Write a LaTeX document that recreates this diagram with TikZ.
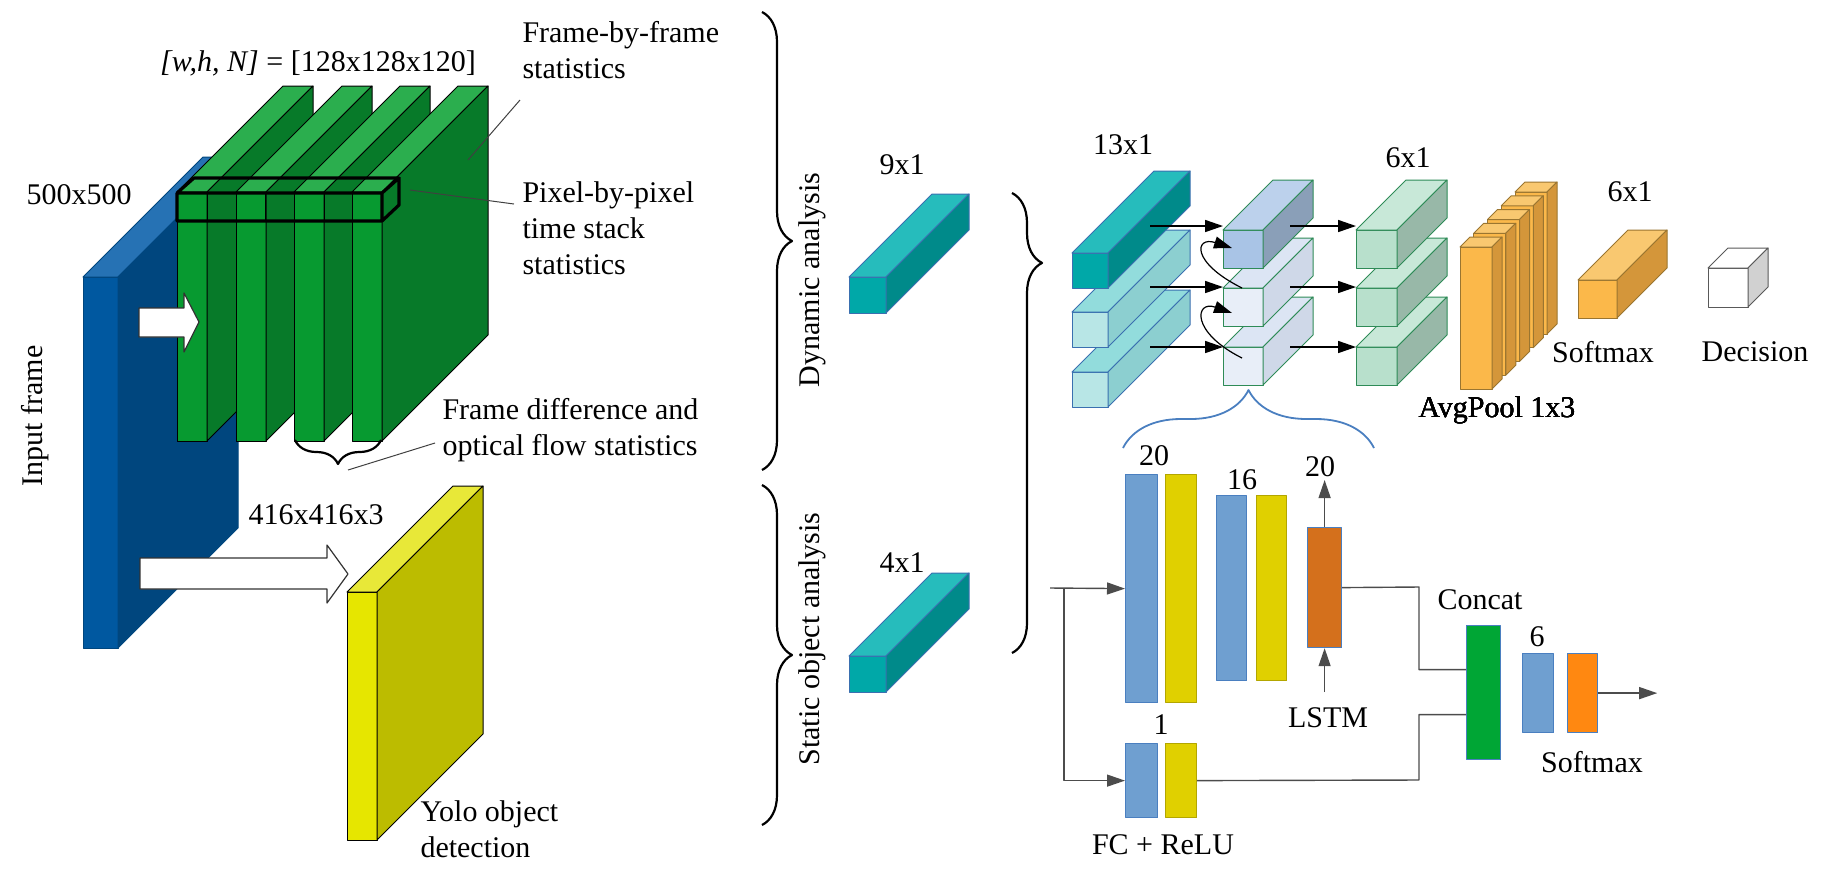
\documentclass[tikz,border=0pt]{standalone}
\usepackage{fontspec}
\setmainfont{Liberation Serif}
\usetikzlibrary{arrows.meta,decorations.pathreplacing}

\definecolor{gfront}{HTML}{079A30}\definecolor{gtop}{HTML}{2BAE4E}\definecolor{gside}{HTML}{077A29}
\definecolor{bfront}{HTML}{0058A0}\definecolor{btop}{HTML}{2672B4}\definecolor{bside}{HTML}{00467E}
\definecolor{yfront}{HTML}{E6E600}\definecolor{ytop}{HTML}{E8E838}\definecolor{yside}{HTML}{BCBC00}
\definecolor{tfront}{HTML}{00A8A8}\definecolor{ttop}{HTML}{26BCBC}\definecolor{tside}{HTML}{008A8A}
\definecolor{lfront}{HTML}{B8E6E6}\definecolor{ltop}{HTML}{92DCDC}\definecolor{lside}{HTML}{8CCFD0}
\definecolor{cfront}{HTML}{E8EEF8}\definecolor{ctop}{HTML}{DCE5F4}\definecolor{cside}{HTML}{CFD8E8}
\definecolor{kfront}{HTML}{A9C4E6}\definecolor{ktop}{HTML}{BCD1EC}\definecolor{kside}{HTML}{8A9FB8}
\definecolor{mfront}{HTML}{B8E0CC}\definecolor{mtop}{HTML}{C8E8D8}\definecolor{mside}{HTML}{98B8A8}
\definecolor{ofront}{HTML}{FBB84A}\definecolor{otop}{HTML}{F9C870}\definecolor{oside}{HTML}{D4963A}
\definecolor{fcblue}{HTML}{6F9FD0}\definecolor{fcyel}{HTML}{E0D000}\definecolor{lstmc}{HTML}{D4701C}
\definecolor{catc}{HTML}{00A635}\definecolor{smc}{HTML}{FF8811}\definecolor{edgeb}{HTML}{4A7FC0}
\definecolor{edget}{HTML}{3A70B0}\definecolor{edgeg}{HTML}{2E8B57}\definecolor{edgeo}{HTML}{9A7530}

% front face as a node, top and side faces from its anchors
\newcommand{\cuboid}[9][black]{%
  \node[draw=#1, fill=#7, minimum width=#4*0.5pt, minimum height=#5*0.5pt,
        inner sep=0pt, outer sep=0pt, anchor=north west] (#2) at (#3) {};
  \filldraw[fill=#8, draw=#1] (#2.north west) -- ++(#6,-#6) -- ++(#4,0) -- (#2.north east) -- cycle;
  \filldraw[fill=#9, draw=#1] (#2.north east) -- ++(#6,-#6) -- ++(0,#5) -- (#2.south east) -- cycle;}

\tikzset{
  lbl/.style={font=\fontsize{15}{18}\selectfont, inner sep=1pt},
  bar/.style={draw=edgeb, line width=0.6pt, inner sep=0pt, anchor=north west},
  lead/.style={draw=black!75, line width=0.5pt},
  conn/.style={draw=black!70, line width=0.7pt},
  tip/.style={-{Triangle[length=9pt,width=6pt]}},
  bigbrace/.style={decorate, line width=1.1pt},
  fat/.style={draw=black!80, fill=white, line width=0.6pt}
}

\begin{document}
\begin{tikzpicture}[x=0.5pt, y=-0.5pt, line width=0.5pt, line join=round]
  \useasboundingbox (0,0) rectangle (1836,875);

  % input frame and green stack
  \cuboid[bside]{inp}{83,277}{35}{371}{120}{bfront}{btop}{bside}
  \cuboid{s1}{177,192}{30}{249}{106}{gfront}{gtop}{gside}
  \cuboid{s2}{236,192}{30}{249}{106}{gfront}{gtop}{gside}
  \cuboid{s3}{294,192}{30}{249}{106}{gfront}{gtop}{gside}
  \cuboid{s4}{352,192}{30}{249}{106}{gfront}{gtop}{gside}
  \draw[line width=1.6pt] (s1.north west) ++(0,1) rectangle (382,221)
    (s1.north west) ++(0,1) -- ++(17,-15) -- ++(205,0) -- (382,193) ++(17,-16) -- ++(0,28) -- (382,221);
  \foreach \x in {207,236,265,294,324,352} \draw (\x,193) -- (\x,221);
  \draw[fat] (139,308) -- (184,308) -- (184,293) -- (199,322) -- (184,352) -- (184,337) -- (139,337) -- cycle;
  \cuboid{yolo}{347,592}{30}{248}{106}{yfront}{ytop}{yside}
  \draw[fat] (140,558) -- (327,558) -- (327,545) -- (348,574) -- (327,603) -- (327,589) -- (140,589) -- cycle;
  \draw[bigbrace, decoration={brace, amplitude=12pt}] (381,440) -- (295,440);

  \node[lbl] (dims) at (318,63) {\textit{[w,h, N]} = [128x128x120]};
  \node[lbl, anchor=west, align=left] (fbf) at (520,50) {Frame-by-frame\\statistics};
  \node[lbl, anchor=west, align=left] (pbp) at (520,228) {Pixel-by-pixel\\time stack\\statistics};
  \node[lbl, anchor=west, align=left] (fdo) at (440,430) {Frame difference and\\optical flow statistics};
  \node[lbl] (res) at (79,195) {500x500};
  \node[lbl, rotate=90] (inlbl) at (35,416) {Input frame};
  \node[lbl] (yres) at (316,515) {416x416x3};
  \node[lbl, anchor=west, align=left] (yolbl) at (418,829) {Yolo object\\detection};
  \draw[lead] (468,160) -- (fbf.west |- 0,100);
  \draw[lead] (410,190) -- (514,204);
  \draw[lead] (348,470) -- (435,443);

  % analysis braces
  \draw[bigbrace, decoration={brace, amplitude=15pt}] (762,12) -- (762,470);
  \draw[bigbrace, decoration={brace, amplitude=15pt}] (762,485) -- (762,825);
  \node[lbl, rotate=90] (dyn) at (812,280) {Dynamic analysis};
  \node[lbl, rotate=90] (sta) at (812,639) {Static object analysis};
  \cuboid[edget]{v9}{849,277}{37}{36}{83}{tfront}{ttop}{tside}
  \cuboid[edget]{v4}{849,656}{37}{36}{83}{tfront}{ttop}{tside}
  \node[lbl] at (902,165) {9x1};
  \node[lbl] at (902,563) {4x1};
  \draw[bigbrace, decoration={brace, amplitude=15pt, aspect=0.152}] (1012,193) -- (1012,653);

  % dynamic branch
  \cuboid[edget]{t3}{1072,372}{36}{35}{82}{lfront}{ltop}{lside}
  \cuboid[edget]{t2}{1072,312}{36}{35}{82}{lfront}{ltop}{lside}
  \cuboid[edget]{t1}{1072,253}{36}{35}{82}{tfront}{ttop}{tside}
  \node[lbl] at (1123,145) {13x1};
  \cuboid[edgeg]{c3}{1223,347}{40}{38}{50}{cfront}{ctop}{cside}
  \cuboid[edgeg]{c2}{1223,288}{40}{38}{50}{cfront}{ctop}{cside}
  \cuboid[edgeg]{c1}{1223,230}{40}{38}{50}{kfront}{ktop}{kside}
  \foreach \y/\n in {226/1,287/2,347/3} {
    \coordinate (a\n) at (1150,\y);
    \coordinate (r\n) at (1290,\y);
    \draw[tip, line width=0.8pt] (a\n) -- (a\n -| c1.west);
  }
  \draw[tip, line width=0.6pt] (1242,288) .. controls (1190,262) and (1195,236) .. (1232,248);
  \draw[tip, line width=0.6pt] (1242,358) .. controls (1190,332) and (1195,300) .. (1232,313);
  \cuboid[edgeg]{g3}{1356,347}{41}{38}{50}{mfront}{mtop}{mside}
  \cuboid[edgeg]{g2}{1356,288}{41}{38}{50}{mfront}{mtop}{mside}
  \cuboid[edgeg]{g1}{1356,230}{41}{38}{50}{mfront}{mtop}{mside}
  \foreach \n in {1,2,3} \draw[tip, line width=0.8pt] (r\n) -- (r\n -| g1.west);
  \node[lbl] at (1408,158) {6x1};
  \foreach \i in {4,...,0}
    \cuboid[edgeo]{p\i}{1460+13.75*\i,247-13.75*\i}{32}{142}{10}{ofront}{otop}{oside}
  \node[lbl] at (1497,410) {AvgPool 1x3};
  \cuboid[edgeo]{so}{1578,280}{39}{38}{50}{ofront}{otop}{oside}
  \node[lbl] at (1630,192) {6x1};
  \node[lbl] at (1603,352) {Softmax};
  \cuboid[black!65]{dec}{1708,268}{40}{39}{20}{white}{white}{black!18}
  \node[lbl] at (1755,352) {Decision};
  \draw[bigbrace, draw=edgeb, line width=0.9pt, decoration={brace, amplitude=29pt}] (1123,448) -- (1374,448);

  % fully connected branch
  \node[bar, fill=fcblue, minimum width=16pt, minimum height=114pt] (b1) at (1125,474) {};
  \node[bar, fill=fcyel, draw=fcyel!80!black, minimum width=15.5pt, minimum height=114pt] (y1) at (1165,474) {};
  \node[bar, fill=fcblue, minimum width=15pt, minimum height=92.5pt] (b2) at (1216,495) {};
  \node[bar, fill=fcyel, draw=fcyel!80!black, minimum width=15pt, minimum height=92.5pt] (y2) at (1256,495) {};
  \node[bar, fill=lstmc, minimum width=17pt, minimum height=60pt] (lstm) at (1307,527) {};
  \node[bar, fill=fcblue, minimum width=16pt, minimum height=37pt] (b3) at (1125,743) {};
  \node[bar, fill=fcyel, draw=fcyel!80!black, minimum width=15.5pt, minimum height=37pt] (y3) at (1165,743) {};
  \node[bar, fill=catc, minimum width=17pt, minimum height=67pt] (cat) at (1466,625) {};
  \node[bar, fill=fcblue, minimum width=15.5pt, minimum height=39.5pt] (b4) at (1522,653) {};
  \node[bar, fill=smc, minimum width=15pt, minimum height=39.5pt] (sm) at (1567,653) {};
  \coordinate (in) at (1050,588);
  \coordinate (fork) at (1064,588);
  \draw[conn, tip] (in) -- (b1.west);
  \draw[conn, tip] (fork) |- (b3.west);
  \draw[conn, tip] (lstm.north) -- ++(0,-47);
  \draw[conn, tip] ([yshift=-22pt]lstm.south) -- (lstm.south);
  \draw[conn] (lstm.east) -- (1419,587) |- ([yshift=11.5pt]cat.west);
  \draw[conn] (y3.east) -- (1419,780) |- ([yshift=-11pt]cat.west);
  \draw[conn, tip] (sm.east) -- ++(59,0);
  \node[lbl] at (1154,456) {20};
  \node[lbl] at (1242,480) {16};
  \node[lbl] at (1320,467) {20};
  \node[lbl] at (1161,725) {1};
  \node[lbl] at (1328,718) {LSTM};
  \node[lbl] at (1163,845) {FC + ReLU};
  \node[lbl] at (1480,600) {Concat};
  \node[lbl] at (1537,637) {6};
  \node[lbl] at (1592,762) {Softmax};
\end{tikzpicture}
\end{document}
